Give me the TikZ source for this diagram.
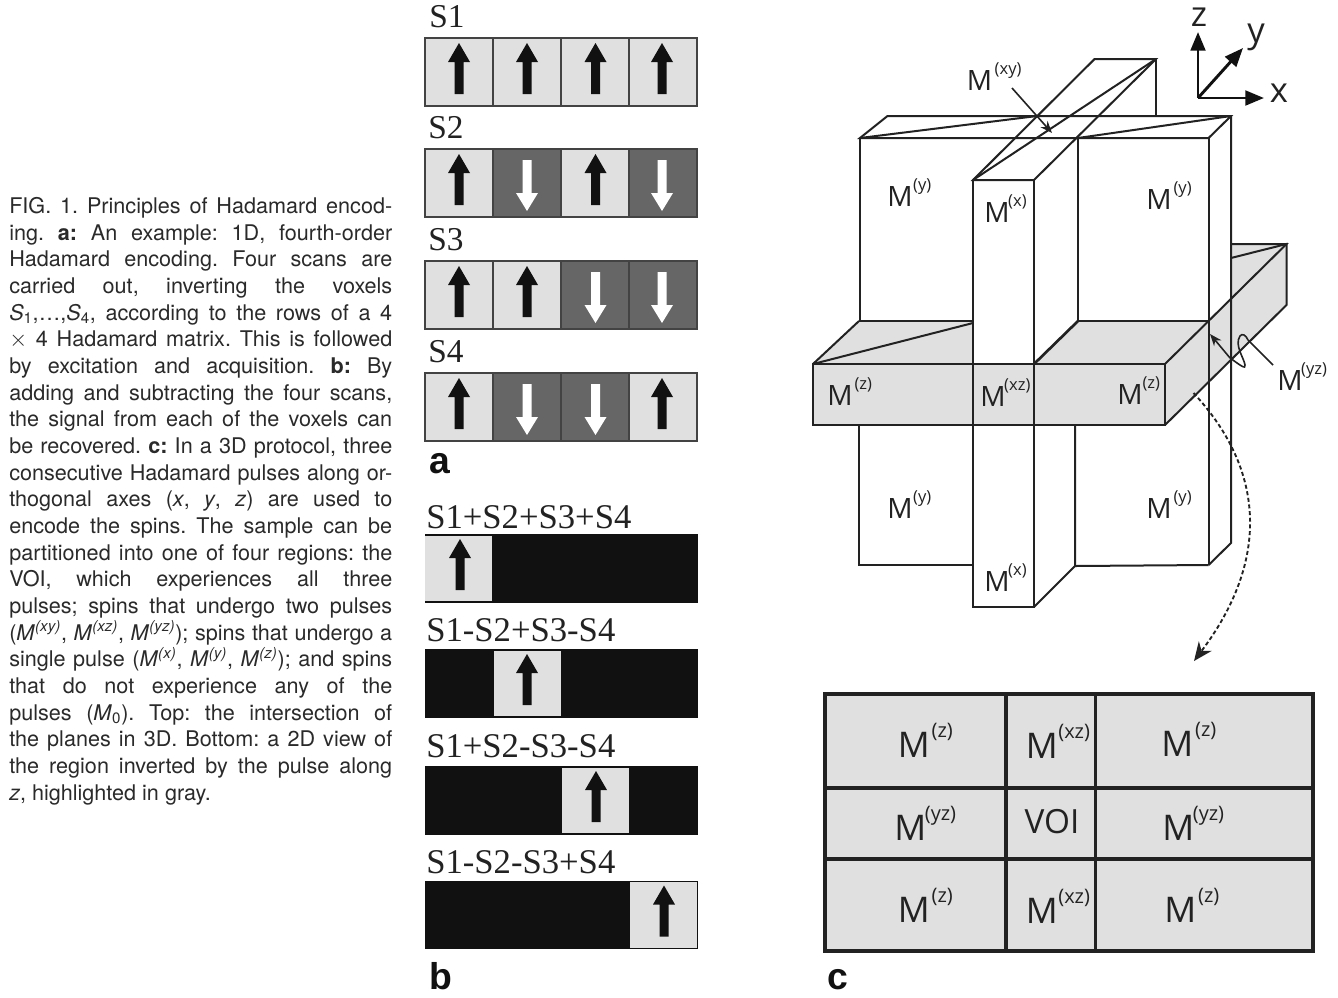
\documentclass[tikz,border=0pt]{standalone}
\usepackage{fontspec}
\setmainfont{TeX Gyre Heros}
\newfontfamily\serifL{Liberation Serif}
\newfontfamily\armL{Liberation Sans}
\newfontfamily\openL{Open Sans}
\usetikzlibrary{arrows.meta}
\definecolor{lightg}{HTML}{E0E0E0}
\definecolor{darkg}{HTML}{666666}
\definecolor{blk}{HTML}{111111}
\definecolor{ink}{HTML}{222222}
\definecolor{captionink}{HTML}{2A2A2A}
\tikzset{
  ln/.style={draw=ink,line width=1.5pt,line join=miter},
  cellbox/.style={draw=ink!85,line width=1.5pt},
  serlab/.style={anchor=base west,inner sep=0pt,text=ink,font=\serifL\fontsize{25}{25}\selectfont},
  serlabb/.style={anchor=base west,inner sep=0pt,text=ink,font=\serifL\fontsize{26}{26}\selectfont},
  panel/.style={anchor=base west,inner sep=0pt,text=blk,font=\armL\bfseries\fontsize{28}{28}\selectfont},
  mlab/.style={anchor=base west,inner sep=0pt,text=ink,font=\openL\fontsize{21}{21}\selectfont},
  tlab/.style={anchor=base west,inner sep=0pt,text=ink,font=\openL\fontsize{26.5}{26.5}\selectfont},
  axlab/.style={inner sep=0pt,text=ink,font=\openL\fontsize{26}{26}\selectfont},
  leader/.style={draw=ink,line width=1.2pt,-{Stealth[length=9pt,width=7pt]}},
  axis/.style={draw=blk,line width=2.2pt,-{Triangle[length=14pt,width=11pt]}},
  gridl/.style={draw=ink,line width=2.6pt},
}
\newcommand{\Ms}[2]{M\hspace{#1pt}\raisebox{12pt}{\fontsize{12.4}{12.4}\selectfont #2}}
\newcommand{\Mt}[2]{M\hspace{#1pt}\raisebox{15pt}{\fontsize{15}{15}\selectfont #2}}
\newcommand{\UpArr}[3][blk]{\fill[#1] (#2-4.5,#3+56) -- (#2-4.5,#3+24) -- (#2-11,#3+24) -- (#2,#3+5) -- (#2+11,#3+24) -- (#2+4.5,#3+24) -- (#2+4.5,#3+56) -- cycle;}
\newcommand{\DnArr}[3][white]{\fill[#1] (#2-4.5,#3+11) -- (#2-4.5,#3+44) -- (#2-11,#3+44) -- (#2,#3+62) -- (#2+11,#3+44) -- (#2+4.5,#3+44) -- (#2+4.5,#3+11) -- cycle;}
\begin{document}
\begin{tikzpicture}[x=0.75pt,y=-0.75pt]
\useasboundingbox (0,0) rectangle (1338,997);
\fill[white] (0,0) rectangle (1338,997);

% caption
\node[anchor=north west,inner sep=0pt,text width=287.25pt,align=justify,text=captionink,font=\fontsize{16.2}{20}\selectfont] (caption) at (9,197) {%
\hbadness=10000 \hfuzz=30pt \frenchspacing
FIG. 1. Principles of Hadamard encod-\linebreak
ing. \textbf{a:} An example: 1D, fourth-order\linebreak
Hadamard encoding. Four scans are\linebreak
carried out, inverting the voxels\linebreak
\textit{S}\textsubscript{1},\ldots,\textit{S}\textsubscript{4}, according to the rows of a 4\linebreak
$\times$ 4 Hadamard matrix. This is followed\linebreak
by excitation and acquisition. \textbf{b:} By\linebreak
adding and subtracting the four scans,\linebreak
the signal from each of the voxels can\linebreak
be recovered. \textbf{c:} In a 3D protocol, three\linebreak
consecutive Hadamard pulses along or-\linebreak
thogonal axes (\textit{x}, \textit{y}, \textit{z}) are used to\linebreak
encode the spins. The sample can be\linebreak
partitioned into one of four regions: the\linebreak
VOI, which experiences all three\linebreak
pulses; spins that undergo two pulses\linebreak
(\textit{M}\textsuperscript{\textit{(xy)}}, \textit{M}\textsuperscript{\textit{(xz)}}, \textit{M}\textsuperscript{\textit{(yz)}}); spins that undergo a\linebreak
single pulse (\textit{M}\textsuperscript{\textit{(x)}}, \textit{M}\textsuperscript{\textit{(y)}}, \textit{M}\textsuperscript{\textit{(z)}}); and spins\linebreak
that do not experience any of the\linebreak
pulses (\textit{M}\textsubscript{0}). Top: the intersection of\linebreak
the planes in 3D. Bottom: a 2D view of\linebreak
the region inverted by the pulse along\linebreak
\textit{z}, highlighted in gray.};

% panel a
\node[serlab] (s1) at (429,27) {S1};
\node[serlab] (s2) at (428,138) {S2};
\node[serlab] (s3) at (428,250) {S3};
\node[serlab] (s4) at (428,362) {S4};
\foreach \yy/\aa/\bb/\cc/\dd in {38/1/1/1/1,149/1/0/1/0,261/1/1/0/0,373/1/0/0/1}{
  \foreach \xx/\ax/\st in {425/459/\aa,493/527/\bb,561/595.5/\cc,629/662/\dd}{
    \ifnum\st=1
      \fill[lightg] (\xx,\yy) rectangle (\xx+68,\yy+67.5);
      \UpArr{\ax}{\yy}
    \else
      \fill[darkg] (\xx,\yy) rectangle (\xx+68,\yy+67.5);
      \DnArr{\ax}{\yy}
    \fi
    \draw[cellbox] (\xx,\yy) rectangle (\xx+68,\yy+67.5);
  }
}
\node[panel] (la) at (429,473) {a};

% panel b
\node[serlabb] (b1) at (426,528) {S1+S2+S3+S4};
\node[serlabb] (b2) at (426,641) {S1-S2+S3-S4};
\node[serlabb] (b3) at (426,757) {S1+S2-S3-S4};
\node[serlabb] (b4) at (426,873) {S1-S2-S3+S4};
\foreach \yy/\xx/\ax in {534/425/460,649/494/527,766/562/596,880.5/630/664}{
  \fill[blk] (425,\yy) rectangle (698,\yy+68.5);
  \fill[lightg] (\xx,\yy+1.5) rectangle (\xx+67,\yy+67);
  \UpArr{\ax}{\yy}
}
\node[panel] (lb) at (429,989) {b};
\node[panel] (lc) at (827,989) {c};

% 3D: gray faces
\fill[lightg] (813,364) -- (859,321) -- (973,321) -- (973,364) -- cycle;
\fill[lightg] (1034,364) -- (1078,321) -- (1208.6,321) -- (1165,364) -- cycle;
\fill[lightg] (813,364) rectangle (1165,425);
\fill[lightg] (1165,364) -- (1231,299) -- (1231,244) -- (1286.5,244) -- (1286.5,305) -- (1165,425) -- cycle;

% 3D: y plane
\draw[ln] (860,138) -- (887.5,116) -- (1231,116) -- (1208.6,138) -- cycle;
\draw[ln] (860,138) -- (1037,116);
\draw[ln] (1078,138) -- (1231,116);
\draw[ln] (860,138) -- (860,321) -- (973,321);
\draw[ln] (1078,138) -- (1078,321);
\draw[ln] (1208.6,138) -- (1208.6,565);
\draw[ln] (1231,116) -- (1231,543) -- (1208.6,565);
\draw[ln] (859,425) -- (859,565) -- (973,565);
\draw[ln] (1075,425) -- (1075,566) -- (1208.6,565);
% 3D: x plane
\draw[ln] (1094.6,59) -- (1156,59) -- (1034,180) -- (973,180) -- cycle;
\draw[ln] (973,180) -- (1156,59);
\draw[ln] (1156,59) -- (1156,116);
\draw[ln] (973,180) -- (973,607) -- (1034,607) -- (1034,180);
\draw[ln] (1034,607) -- (1075,566);
% 3D: z plane
\draw[ln] (813,364) rectangle (1165,425);
\draw[ln] (813,364) -- (859,321);
\draw[ln] (813,364) -- (973,323);
\draw[ln,line width=2pt] (1034,364) -- (1078,321);
\draw[ln] (1078,321) -- (1208.6,321);
\draw[ln] (1165,364) -- (1286.5,244) -- (1231,244);
\draw[ln] (1231,258) -- (1286.5,244) -- (1286.5,305) -- (1165,425);

% 3D labels
\node[mlab] (mxy) at (966.5,90) {\Ms{2}{(xy)}};
\node[mlab] (my1) at (887,206) {\Ms{0.5}{(y)}};
\node[mlab] (mx1) at (984,222) {\Ms{-1}{(x)}};
\node[mlab] (my2) at (1146,209) {\Ms{1.5}{(y)}};
\node[mlab] (mz1) at (827,405) {\Ms{1.5}{(z)}};
\node[mlab] (mxz) at (980,406) {\Ms{-1}{(xz)}};
\node[mlab] (mz2) at (1117,404) {\Ms{0}{(z)}};
\node[mlab] (my3) at (887,518) {\Ms{0.5}{(y)}};
\node[mlab] (my4) at (1146,518) {\Ms{1.5}{(y)}};
\node[mlab] (mx2) at (984,591) {\Ms{-1}{(x)}};
\node[mlab] (myz) at (1277,390) {\Ms{-1}{(yz)}};

% leaders
\coordinate (l1a) at (1012,88);
\coordinate (l1b) at (1052,133);
\draw[leader] (l1a) -- (l1b);
\coordinate (l2a) at (1273,365);
\coordinate (l2c) at (1248,340);
\coordinate (l2d) at (1230,358);
\coordinate (l2b) at (1210,334);
\draw[draw=ink,line width=1.2pt] (l2a) -- (l2c);
\draw[leader] (l2d) -- (l2b);
\draw[draw=ink,line width=1.2pt] (l2d) .. controls (1240,365) and (1246,370) .. (1245,365) .. controls (1244,358) and (1234,345) .. (1240,336) .. controls (1242,333) and (1246,335) .. (l2c);
\coordinate (d1) at (1193.5,393);
\coordinate (d2) at (1194,661);
\draw[draw=ink,line width=1.4pt,dash pattern=on 3pt off 2pt,-{Stealth[length=14pt,width=12pt]}] (d1) .. controls (1265,470) and (1270,560) .. (d2);

% axes
\coordinate (o) at (1198,98);
\coordinate (az) at (1198,32);
\coordinate (ax) at (1264,98);
\coordinate (ay) at (1243,48);
\draw[axis] (o) -- (az);
\draw[axis] (o) -- (ax);
\draw[axis] (o) -- (ay);
\node[axlab] (tz) at (1199,17) {z};
\node[axlab] (ty) at (1256,37) {y};
\node[axlab] (tx) at (1279,93) {x};

% table
\fill[lightg] (825,694) rectangle (1313,951);
\draw[gridl] (825,694) rectangle (1313,951);
\draw[gridl] (1006,694) -- (1006,951);
\draw[gridl] (1095.5,694) -- (1095.5,951);
\draw[gridl] (825,788) -- (1313,788);
\draw[gridl] (825,859) -- (1313,859);
\node[tlab] (t1) at (897.5,757) {\Mt{1.5}{(z)}};
\node[tlab] (t2) at (1025.5,758) {\Mt{0.5}{(xz)}};
\node[tlab] (t3) at (1161,756) {\Mt{1.5}{(z)}};
\node[tlab] (t4) at (894,840) {\Mt{-1}{(yz)}};
\node[tlab,anchor=base,font=\openL\fontsize{25}{25}\selectfont] (t5) at (1052,833) {VOI};
\node[tlab] (t6) at (1162,840) {\Mt{-1}{(yz)}};
\node[tlab] (t7) at (897.5,922) {\Mt{1.5}{(z)}};
\node[tlab] (t8) at (1025.5,923) {\Mt{0.5}{(xz)}};
\node[tlab] (t9) at (1164,922) {\Mt{1.5}{(z)}};
\end{tikzpicture}
\end{document}
